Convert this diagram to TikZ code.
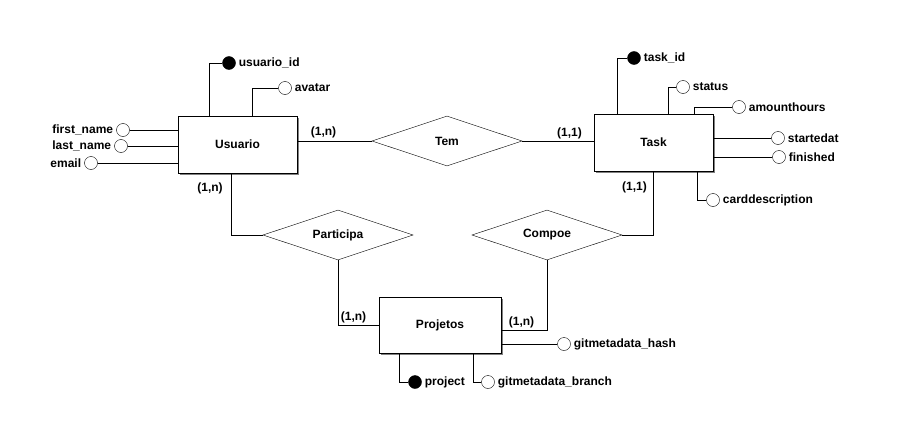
\documentclass[tikz,border=0pt]{standalone}
\usepackage{fontspec}
\setmainfont{Liberation Sans}
\usetikzlibrary{positioning,shapes.geometric,shadows}

\begin{document}
\begin{tikzpicture} [
	x=1pt, y=-1pt,
	node distance = 1pt,
	every node/.style = {font=\fontsize{12}{14}\selectfont\bfseries},
	entity/.style = {
		draw=black,
		line width=1pt,
		fill=white,
		minimum width=119pt,
		minimum height=57pt,
		drop shadow={shadow xshift=2pt, shadow yshift=-2pt, fill=gray, opacity=1}
	},
	relation/.style = {draw=black, diamond, aspect=3, minimum width=150pt, minimum height=50pt, inner sep=0pt},
	attr/.style = {draw=black, circle, minimum size=13pt, inner sep=0pt},
	keyattr/.style = {attr, fill=black},
	lbl/.style = {inner sep=2pt},
	link/.style = {draw, line width=0.8pt}
]

\path[use as bounding box, fill=white] (0,0) rectangle (897,439);

\node (usuario) [entity] at (237.5,144.5) {Usuario};
\node (task) [entity] at (653.5,142.5) {Task};
\node (projetos) [entity, minimum width=122pt, minimum height=56pt] at (440,325) {Projetos};

\node (tem) [relation] at (447,141) {Tem};
\node (participa) [relation] at (338,235) {Participa};
\node (compoe) [relation] at (547,235) {Compoe};

\node (c1) at (323.5,132) {(1,n)};
\node (c2) at (569.5,133) {(1,1)};
\node (c3) at (210,188) {(1,n)};
\node (c4) at (634.5,187) {(1,1)};
\node (c5) at (353.5,317) {(1,n)};
\node (c6) at (521.5,322) {(1,n)};

\node (usuarioid) [keyattr] at (229,63) {};
\node (usuarioidlbl) [lbl, right=of usuarioid] {usuario\_id};
\node (avatar) [attr] at (285,88) {};
\node (avatarlbl) [lbl, right=of avatar] {avatar};
\node (firstname) [attr] at (123,130) {};
\node (firstnamelbl) [lbl, left=of firstname] {first\_name};
\node (lastname) [attr] at (121,146) {};
\node (lastnamelbl) [lbl, left=of lastname] {last\_name};
\node (email) [attr] at (91,163) {};
\node (emaillbl) [lbl, left=of email] {email};

\node (taskid) [keyattr] at (634,58) {};
\node (taskidlbl) [lbl, right=of taskid] {task\_id};
\node (status) [attr] at (683,87) {};
\node (statuslbl) [lbl, right=of status] {status};
\node (amounthours) [attr] at (739,107) {};
\node (amounthourslbl) [lbl, right=of amounthours] {amounthours};
\node (startedat) [attr] at (778,138) {};
\node (startedatlbl) [lbl, right=of startedat] {startedat};
\node (finished) [attr] at (779,157) {};
\node (finishedlbl) [lbl, right=of finished] {finished};
\node (carddescription) [attr] at (713,200) {};
\node (carddescriptionlbl) [lbl, right=of carddescription] {carddescription};

\node (hash) [attr] at (564,344) {};
\node (hashlbl) [lbl, right=of hash] {gitmetadata\_hash};
\node (project) [keyattr] at (415,382) {};
\node (projectlbl) [lbl, right=of project] {project};
\node (branch) [attr] at (488,382) {};
\node (branchlbl) [lbl, right=of branch] {gitmetadata\_branch};

\draw[link] (tem.west) -- (tem.west -| usuario.east);
\draw[link] (tem.east) -- (tem.east -| task.west);
\draw[link] ([xshift=-6.5pt]usuario.south) |- (participa.west);
\draw[link] (participa.south) |- (projetos.west);
\draw[link] (task.south) |- (compoe.east);
\draw[link] (compoe.south) |- ([yshift=-5pt]projetos.east);

\draw[link] ([xshift=-28.5pt]usuario.north) |- (usuarioid.west);
\draw[link] ([xshift=14.5pt]usuario.north) |- (avatar.west);
\draw[link] (firstname.east) -- (firstname.east -| usuario.west);
\draw[link] (lastname.east) -- (lastname.east -| usuario.west);
\draw[link] (email.east) -- (email.east -| usuario.west);

\draw[link] ([xshift=-36.5pt]task.north) |- (taskid.west);
\draw[link] ([xshift=14.5pt]task.north) |- (status.west);
\draw[link] ([xshift=40.5pt]task.north) |- (amounthours.west);
\draw[link] (startedat.west) -- (startedat.west -| task.east);
\draw[link] (finished.west) -- (finished.west -| task.east);
\draw[link] ([xshift=43.5pt]task.south) |- (carddescription.west);

\draw[link] (hash.west) -- (hash.west -| projetos.east);
\draw[link] ([xshift=-41pt]projetos.south) |- (project.west);
\draw[link] ([xshift=33pt]projetos.south) |- (branch.west);

\end{tikzpicture}
\end{document}
